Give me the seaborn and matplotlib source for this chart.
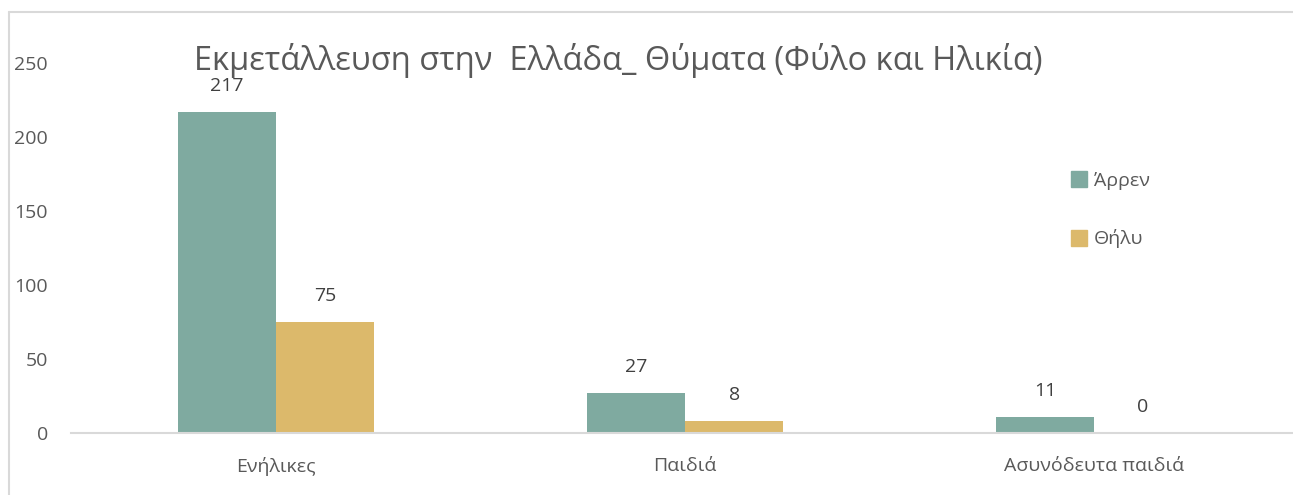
import matplotlib.pyplot as plt
import matplotlib.lines as mlines
import pandas as pd
import seaborn as sns

# データ
categories = ['Ενήλικες', 'Παιδιά', 'Ασυνόδευτα παιδιά']
male = [217, 27, 11]
female = [75, 8, 0]
series_names = ['Άρρεν', 'Θήλυ']
title = 'Εκμετάλλευση στην  Ελλάδα_ Θύματα (Φύλο και Ηλικία)'

sns.set_style('white')
plt.rcParams['font.family'] = ['Open Sans', 'Noto Sans', 'DejaVu Sans']

df = pd.DataFrame({
    'cat': categories * 2,
    'val': male + female,
    'sex': [series_names[0]] * 3 + [series_names[1]] * 3,
})

W, H = 1293, 495
fig = plt.figure(figsize=(W / 100, H / 100), dpi=100)
# 軸の位置（ピクセルから計算）
left, right = 71.5, 1298.5
top, bottom = 63, 433
ax = fig.add_axes([left / W, 1 - bottom / H, (right - left) / W, (bottom - top) / H])

pal = {'Άρρεν': '#7FAAA0', 'Θήλυ': '#DCB96B'}
sns.barplot(data=df, x='cat', y='val', hue='sex', palette=pal,
            width=0.48, gap=0, saturation=1, linewidth=0, ax=ax, legend=False)

ax.set_xlim(-0.5, 2.5)
ax.set_ylim(0, 250)
ax.set_yticks([0, 50, 100, 150, 200, 250])
ax.set_xlabel('')
ax.set_ylabel('')
for s in ['top', 'right', 'left']:
    ax.spines[s].set_visible(False)
ax.spines['bottom'].set_color('#D9D9D9')
ax.spines['bottom'].set_linewidth(1.5)
ax.tick_params(axis='y', length=0, pad=17, labelsize=14, labelcolor='#595959')
ax.tick_params(axis='x', length=0, pad=17, labelsize=14, labelcolor='#595959')
ax.grid(False)

# データラベル
for cont in ax.containers:
    ax.bar_label(cont, fmt='%d', padding=12, fontsize=14, color='#404040')

# タイトル
fig.text(618 / W, 1 - 60 / H, title, ha='center', va='center',
         fontsize=23.5, color='#595959')

# 凡例
handles = [mlines.Line2D([], [], marker='s', linestyle='', markersize=11,
                         color=pal[n]) for n in series_names]
fig.legend(handles, series_names, loc='upper left',
           bbox_to_anchor=(1052 / W, 1 - 154 / H), frameon=False,
           fontsize=14, labelcolor='#595959', labelspacing=2.05,
           handletextpad=0.25, handlelength=1.0)

# 枠線
fig.add_artist(mlines.Line2D([9 / W, 9 / W], [0, 1 - 11.5 / H],
                             transform=fig.transFigure, color='#D9D9D9', lw=1.5))
fig.add_artist(mlines.Line2D([9 / W, 1], [1 - 11.5 / H, 1 - 11.5 / H],
                             transform=fig.transFigure, color='#D9D9D9', lw=1.5))

fig.savefig('out.png', dpi=100)
